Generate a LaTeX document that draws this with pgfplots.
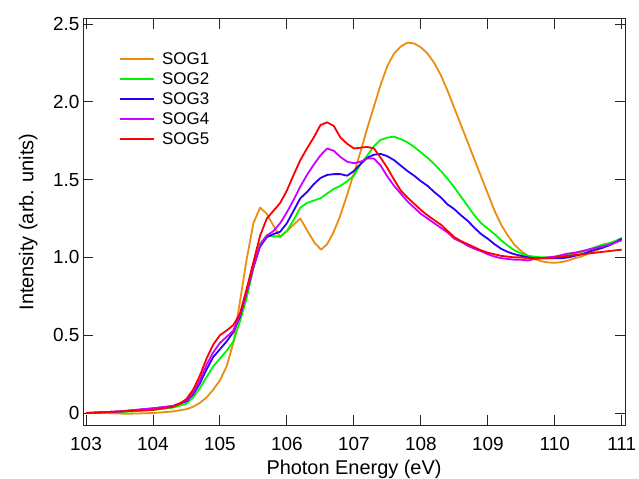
\documentclass[border=0pt]{standalone}
\usepackage{pgfplots}
\pgfplotsset{compat=1.18}
\usepackage{fontspec}
\setmainfont{Liberation Sans}

\definecolor{sogone}{RGB}{234,142,18}
\definecolor{sogtwo}{RGB}{0,245,0}
\definecolor{sogthree}{RGB}{40,0,250}
\definecolor{sogfour}{RGB}{204,0,255}
\definecolor{sogfive}{RGB}{255,0,0}

\begin{document}
\begin{tikzpicture}
\useasboundingbox (0,0) rectangle (639bp,479bp);
\begin{axis}[
    at={(83bp,54bp)}, anchor=south west,
    scale only axis,
    width=542bp, height=406bp,
    xmin=102.955, xmax=111.049,
    ymin=-0.077, ymax=2.532,
    xtick={103,104,105,106,107,108,109,110,111},
    xticklabels={103,104,105,106,107,108,109,110,111},
    ytick={0,0.5,1,1.5,2,2.5},
    yticklabels={0,0.5,1.0,1.5,2.0,2.5},
    xtick pos=both, ytick pos=both,
    tick align=inside,
    major tick length=10bp,
    every tick/.style={black!85, line width=0.9bp},
    axis line style={black!85, line width=1bp},
    /pgf/number format/assume math mode=true,
    tick label style={font=\fontsize{19}{19}\selectfont},
    xticklabel style={anchor=base, yshift=-25bp},
    label style={font=\fontsize{20}{20}\selectfont},
    xlabel={Photon Energy (eV)},
    ylabel={Intensity (arb. units)},
    xlabel style={at={(axis description cs:0.5,-0.1207)}, anchor=base},
    ylabel style={at={(axis description cs:-0.0917,0.5)}, anchor=base, rotate=0},
    legend style={at={(axis description cs:0.0664,0.9187)}, anchor=north west,
                  draw=none, fill=none, inner sep=0pt, row sep=6.8bp,
                  font=\fontsize{17}{17}\selectfont,
                  nodes={inner ysep=0pt, inner xsep=7bp}},
    legend cell align=left,
    legend image code/.code={\draw[#1, line width=2bp] (0bp,0bp) -- (34bp,0bp);},
    every axis plot/.append style={line width=1.8bp, line join=round},
]
\addplot[sogone] coordinates {
(103.0,0.00) (103.3,0.00) (103.6,-0.005) (104.0,0.00) (104.3,0.01) (104.5,0.025)
(104.6,0.04) (104.7,0.065) (104.8,0.10) (104.9,0.15) (105.0,0.21) (105.1,0.30)
(105.2,0.45) (105.3,0.72) (105.4,0.99) (105.5,1.22) (105.6,1.32) (105.7,1.28)
(105.75,1.24) (105.9,1.13) (106.05,1.19) (106.2,1.25) (106.32,1.16) (106.42,1.09)
(106.51,1.05) (106.6,1.085) (106.69,1.155) (106.79,1.26) (106.89,1.39) (107.0,1.54)
(107.1,1.68) (107.2,1.83) (107.3,1.97) (107.4,2.11) (107.5,2.23) (107.6,2.31)
(107.7,2.355) (107.8,2.38) (107.9,2.375) (108.0,2.35) (108.1,2.31) (108.2,2.25)
(108.3,2.17) (108.4,2.07) (108.5,1.96) (108.6,1.85) (108.7,1.74) (108.8,1.63)
(108.9,1.52) (109.0,1.41) (109.1,1.30) (109.2,1.21) (109.3,1.14) (109.4,1.08)
(109.5,1.04) (109.6,1.01) (109.7,0.99) (109.8,0.975) (109.9,0.968) (110.0,0.965)
(110.1,0.97) (110.2,0.98) (110.3,0.995) (110.4,1.005) (110.5,1.025) (110.6,1.04)
(110.7,1.06) (110.8,1.08) (110.9,1.10) (111.0,1.115)
};
\addlegendentry{SOG1}
\addplot[sogtwo] coordinates {
(103.0,0.00) (103.5,0.005) (104.0,0.02) (104.3,0.035) (104.5,0.06) (104.6,0.10)
(104.7,0.16) (104.8,0.23) (104.9,0.30) (105.0,0.35) (105.1,0.40) (105.2,0.46)
(105.3,0.59) (105.4,0.74) (105.5,0.93) (105.6,1.09) (105.7,1.14) (105.8,1.135)
(105.9,1.135) (106.0,1.17) (106.1,1.24) (106.2,1.32) (106.3,1.35) (106.4,1.365)
(106.5,1.38) (106.6,1.41) (106.7,1.44) (106.8,1.46) (106.9,1.49) (107.0,1.525)
(107.1,1.60) (107.2,1.655) (107.3,1.715) (107.4,1.755) (107.5,1.77) (107.6,1.776)
(107.7,1.76) (107.8,1.74) (107.9,1.71) (108.0,1.675) (108.1,1.64) (108.2,1.60)
(108.3,1.555) (108.4,1.505) (108.5,1.45) (108.6,1.39) (108.7,1.33) (108.8,1.27)
(108.9,1.22) (109.0,1.185) (109.1,1.15) (109.2,1.11) (109.3,1.075) (109.4,1.045)
(109.5,1.025) (109.6,1.01) (109.7,1.005) (109.8,1.0) (109.9,1.0) (110.0,1.0)
(110.1,1.005) (110.2,1.015) (110.3,1.025) (110.4,1.035) (110.5,1.05) (110.6,1.065)
(110.7,1.08) (110.8,1.09) (110.9,1.105) (111.0,1.125)
};
\addlegendentry{SOG2}
\addplot[sogthree] coordinates {
(103.0,0.00) (103.5,0.01) (104.0,0.03) (104.3,0.045) (104.5,0.075) (104.6,0.12)
(104.7,0.19) (104.8,0.28) (104.9,0.36) (105.0,0.41) (105.1,0.46) (105.2,0.52)
(105.3,0.62) (105.4,0.78) (105.5,0.94) (105.6,1.07) (105.7,1.13) (105.8,1.15)
(105.9,1.165) (106.0,1.22) (106.1,1.30) (106.2,1.38) (106.3,1.42) (106.4,1.47)
(106.5,1.51) (106.6,1.53) (106.7,1.535) (106.8,1.535) (106.9,1.525) (107.0,1.555)
(107.1,1.60) (107.2,1.64) (107.3,1.66) (107.4,1.665) (107.5,1.65) (107.6,1.625)
(107.7,1.59) (107.8,1.555) (107.9,1.525) (108.0,1.49) (108.1,1.46) (108.2,1.42)
(108.3,1.385) (108.4,1.34) (108.5,1.31) (108.6,1.27) (108.7,1.235) (108.8,1.19)
(108.9,1.15) (109.0,1.12) (109.1,1.085) (109.2,1.055) (109.3,1.035) (109.4,1.02)
(109.5,1.01) (109.6,1.0) (109.7,0.995) (109.8,0.995) (109.9,0.995) (110.0,0.995)
(110.1,0.995) (110.2,1.0) (110.3,1.01) (110.4,1.02) (110.5,1.035) (110.6,1.05)
(110.7,1.06) (110.8,1.075) (110.9,1.095) (111.0,1.12)
};
\addlegendentry{SOG3}
\addplot[sogfour] coordinates {
(103.0,0.00) (103.5,0.01) (104.0,0.03) (104.3,0.045) (104.5,0.08) (104.6,0.13)
(104.7,0.21) (104.8,0.31) (104.9,0.39) (105.0,0.45) (105.1,0.49) (105.2,0.53)
(105.3,0.63) (105.4,0.78) (105.5,0.94) (105.6,1.08) (105.7,1.14) (105.8,1.17)
(105.9,1.22) (106.0,1.29) (106.1,1.37) (106.2,1.455) (106.3,1.53) (106.4,1.595)
(106.5,1.655) (106.6,1.70) (106.7,1.685) (106.8,1.645) (106.9,1.615) (107.0,1.605)
(107.1,1.615) (107.2,1.635) (107.3,1.635) (107.4,1.59) (107.5,1.52) (107.6,1.46)
(107.7,1.41) (107.8,1.36) (107.9,1.32) (108.0,1.28) (108.1,1.25) (108.2,1.22)
(108.3,1.19) (108.4,1.16) (108.5,1.12) (108.6,1.10) (108.7,1.075) (108.8,1.055)
(108.9,1.04) (109.0,1.02) (109.1,1.005) (109.2,0.995) (109.3,0.99) (109.4,0.985)
(109.5,0.985) (109.6,0.98) (109.7,0.99) (109.8,0.995) (109.9,1.0) (110.0,1.005)
(110.1,1.015) (110.2,1.025) (110.3,1.03) (110.4,1.04) (110.5,1.05) (110.6,1.06)
(110.7,1.07) (110.8,1.08) (110.9,1.095) (111.0,1.11)
};
\addlegendentry{SOG4}
\addplot[sogfive] coordinates {
(103.0,0.00) (103.5,0.01) (104.0,0.02) (104.3,0.04) (104.4,0.06) (104.5,0.09)
(104.6,0.15) (104.7,0.24) (104.8,0.35) (104.9,0.44) (105.0,0.50) (105.1,0.53)
(105.2,0.565) (105.3,0.64) (105.4,0.80) (105.5,0.97) (105.6,1.14) (105.7,1.25)
(105.8,1.30) (105.9,1.35) (106.0,1.43) (106.1,1.53) (106.2,1.625) (106.3,1.70)
(106.4,1.77) (106.5,1.85) (106.6,1.868) (106.7,1.845) (106.8,1.77) (106.9,1.73)
(107.0,1.70) (107.1,1.705) (107.2,1.71) (107.3,1.70) (107.4,1.64) (107.5,1.575)
(107.6,1.50) (107.7,1.43) (107.8,1.385) (107.9,1.345) (108.0,1.305) (108.1,1.27)
(108.2,1.24) (108.3,1.21) (108.4,1.17) (108.5,1.13) (108.6,1.105) (108.7,1.085)
(108.8,1.065) (108.9,1.045) (109.0,1.03) (109.1,1.02) (109.2,1.01) (109.3,1.005)
(109.4,1.0) (109.5,1.0) (109.6,0.995) (109.7,0.995) (109.8,0.995) (109.9,0.995)
(110.0,1.0) (110.1,1.005) (110.2,1.01) (110.3,1.015) (110.4,1.02) (110.5,1.025)
(110.6,1.03) (110.7,1.035) (110.8,1.04) (110.9,1.045) (111.0,1.05)
};
\addlegendentry{SOG5}
\end{axis}
\end{tikzpicture}
\end{document}
